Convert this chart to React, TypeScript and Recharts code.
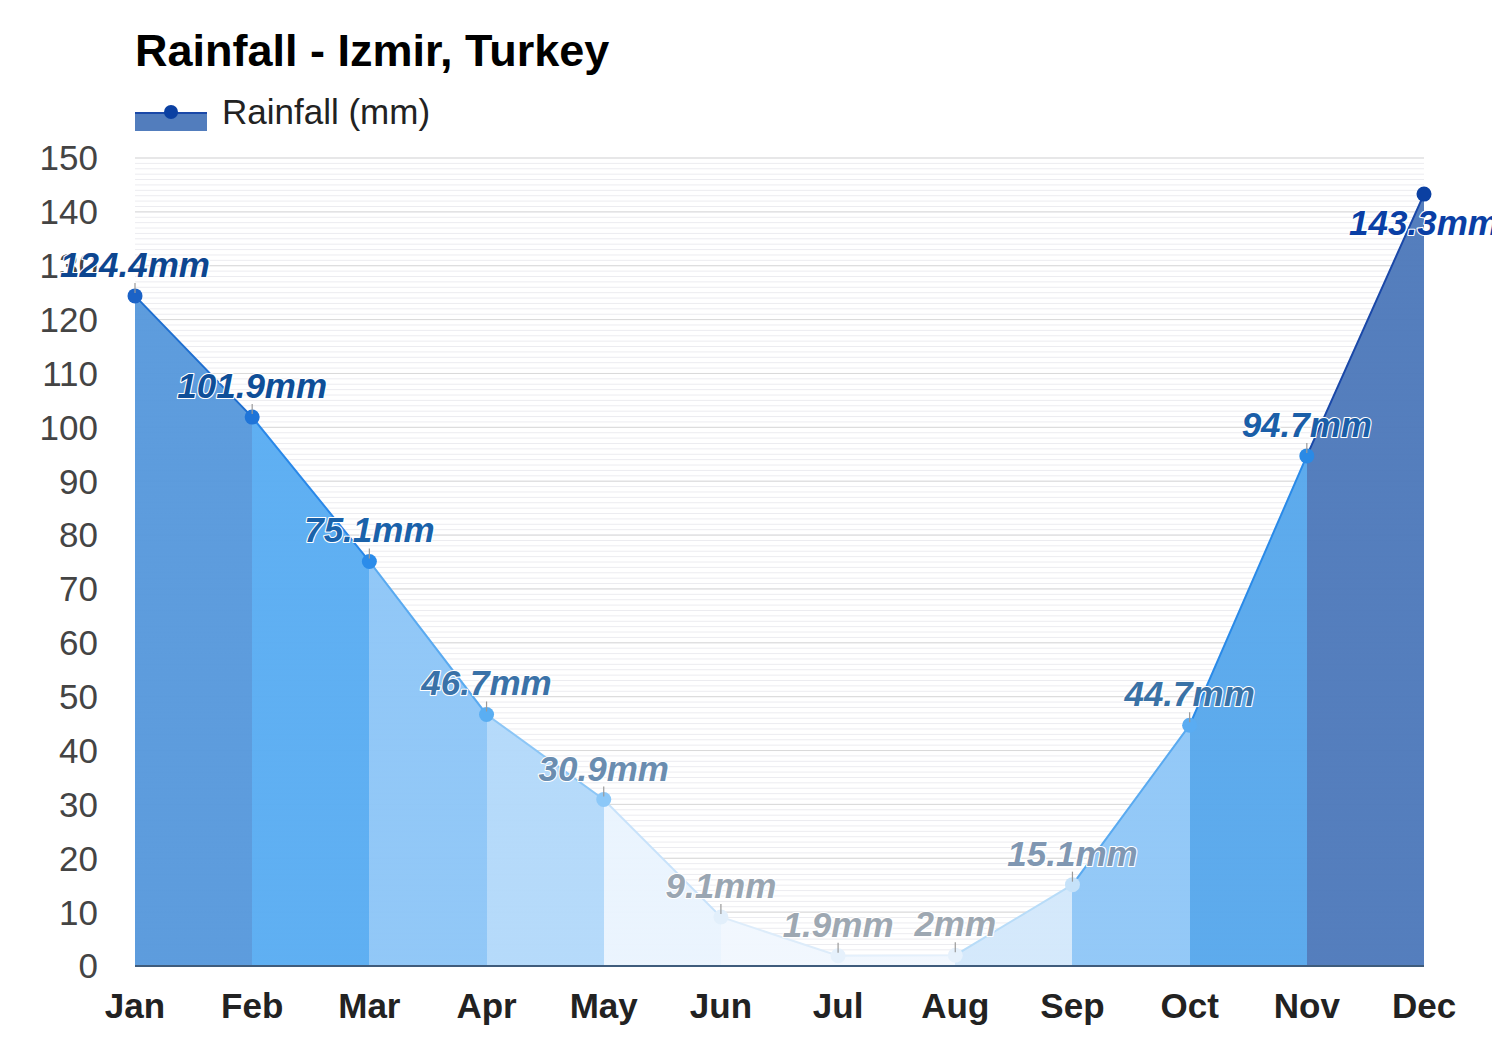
import React from "react";
import { AreaChart, Area, XAxis, YAxis, CartesianGrid, LabelList } from "recharts";

const months = ["Jan", "Feb", "Mar", "Apr", "May", "Jun", "Jul", "Aug", "Sep", "Oct", "Nov", "Dec"];
const rainfall = [124.4, 101.9, 75.1, 46.7, 30.9, 9.1, 1.9, 2, 15.1, 44.7, 94.7, 143.3];
const yTicks = [0, 10, 20, 30, 40, 50, 60, 70, 80, 90, 100, 110, 120, 130, 140, 150];
const minorTicks = Array.from({ length: 151 }, (_, i) => i);

const segmentFills = ["#5899dc", "#5aadf2", "#8ec6f7", "#b3d9fa", "#eaf4fe", "#f1f7fe", "#f1f7fe", "#d3e8fb", "#90c7f7", "#58a8ec", "#4f7abb"];
const segmentStrokes = ["#1f6fd0", "#2a88e8", "#5aaaf0", "#8cc6f6", "#c8e2fa", "#ddecfa", "#e4f0fc", "#b8dcf8", "#5aaaf0", "#2a8ae8", "#1a48a8"];
const dotColors = ["#1b62c6", "#1f74d8", "#2b8cea", "#5aaef2", "#8cc8f8", "#e2effb", "#e6f1fc", "#e6f1fc", "#c6e2f9", "#5aacf2", "#2a8ae6", "#0b40a2"];
const labelColors = ["#0d4690", "#0f4f98", "#1a62aa", "#3a72a8", "#6a8db0", "#9aa6b2", "#9ea8b2", "#9ea8b2", "#8097b2", "#3a72a6", "#1a5ea8", "#0a3fa5"];

const data = months.map((m, i) => ({ month: m, rain: rainfall[i] }));

const FONT = '"Liberation Sans", Arial, Helvetica, sans-serif';
const MARGIN = { top: 150, right: 76, bottom: 22, left: 0 };

const gradientStops = (colors: string[]) => {
  const n = colors.length;
  const out: React.ReactNode[] = [];
  colors.forEach((c, i) => {
    out.push(<stop key={`a${i}`} offset={`${(i / n) * 100}%`} stopColor={c} />);
    out.push(<stop key={`b${i}`} offset={`${((i + 1) / n) * 100}%`} stopColor={c} />);
  });
  return out;
};

const Dot = (props: any) => {
  const { cx, cy, index } = props;
  if (cx == null || cy == null) return null;
  return <circle key={`d${index}`} cx={cx} cy={cy} r={7.5} fill={dotColors[index]} />;
};

const PointLabel = (props: any) => {
  const { x, y, value, index } = props;
  if (x == null || y == null) return null;
  const below = y - 46 < MARGIN.top;
  return (
    <g>
      {!below && <line x1={x} x2={x} y1={y - 13} y2={y - 3} stroke="#9a9a9a" strokeWidth={1.2} />}
      <text
        x={x}
        y={below ? y + 41 : y - 19}
        textAnchor="middle"
        fontFamily={FONT}
        fontSize={35}
        fontWeight="bold"
        fontStyle="italic"
        fill={labelColors[index]}
        stroke="#ffffff"
        strokeWidth={2.2}
        paintOrder="stroke"
        strokeLinejoin="round"
      >
        {`${value}mm`}
      </text>
    </g>
  );
};

export default function App() {
  return (
    <div style={{ position: "relative", width: 1492, height: 1040, fontFamily: FONT }}>
      <div
        style={{
          position: "absolute",
          left: 127,
          top: 18,
          fontSize: 45,
          fontWeight: "bold",
          color: "#000",
          lineHeight: "50px",
          whiteSpace: "nowrap",
        }}
      >
        Rainfall - Izmir, Turkey
      </div>
      <svg style={{ position: "absolute", left: 0, top: 0 }} width={600} height={140}>
        <rect x={127} y={105} width={72} height={18} fill="#527dbd" />
        <line x1={127} x2={199} y1={105} y2={105} stroke="#1a48a8" strokeWidth={2} />
        <circle cx={163} cy={104} r={7} fill="#0b40a2" />
        <text x={214} y={104} dy="0.35em" fontSize={35} fontFamily={FONT} fill="#222">
          Rainfall (mm)
        </text>
      </svg>
      <AreaChart width={1492} height={1040} data={data} margin={MARGIN}>
        <defs>
          <linearGradient id="segFill" x1="0" y1="0" x2="1" y2="0">
            {gradientStops(segmentFills)}
          </linearGradient>
          <linearGradient id="segStroke" x1="0" y1="0" x2="1" y2="0">
            {gradientStops(segmentStrokes)}
          </linearGradient>
        </defs>
        <CartesianGrid
          vertical={false}
          stroke="#ececf0"
          strokeWidth={1}
          horizontalCoordinatesGenerator={(p: any) => {
            const ya = p.yAxis;
            if (ya && typeof ya.scale === "function") return minorTicks.map((t) => ya.scale(t));
            const { top, height } = p.offset;
            return minorTicks.map((t) => top + height * (1 - t / 150));
          }}
        />
        <CartesianGrid vertical={false} stroke="#d9d9d9" strokeWidth={1} />
        <XAxis
          dataKey="month"
          height={60}
          axisLine={{ stroke: "#3f5c7c", strokeWidth: 2 }}
          tickLine={false}
          tickSize={0}
          tickMargin={27}
          interval={0}
          tick={{ fontSize: 35, fontWeight: "bold", fill: "#222", fontFamily: FONT }}
        />
        <YAxis
          width={127}
          domain={[0, 150]}
          ticks={yTicks}
          interval={0}
          axisLine={false}
          tickLine={false}
          tickSize={0}
          tickMargin={37}
          tick={{ fontSize: 35, fill: "#444", fontFamily: FONT }}
        />
        <Area
          type="linear"
          dataKey="rain"
          fill="url(#segFill)"
          fillOpacity={0.97}
          stroke="url(#segStroke)"
          strokeWidth={2}
          dot={Dot}
          activeDot={false}
          isAnimationActive={false}
        >
          <LabelList dataKey="rain" content={PointLabel} />
        </Area>
      </AreaChart>
    </div>
  );
}
